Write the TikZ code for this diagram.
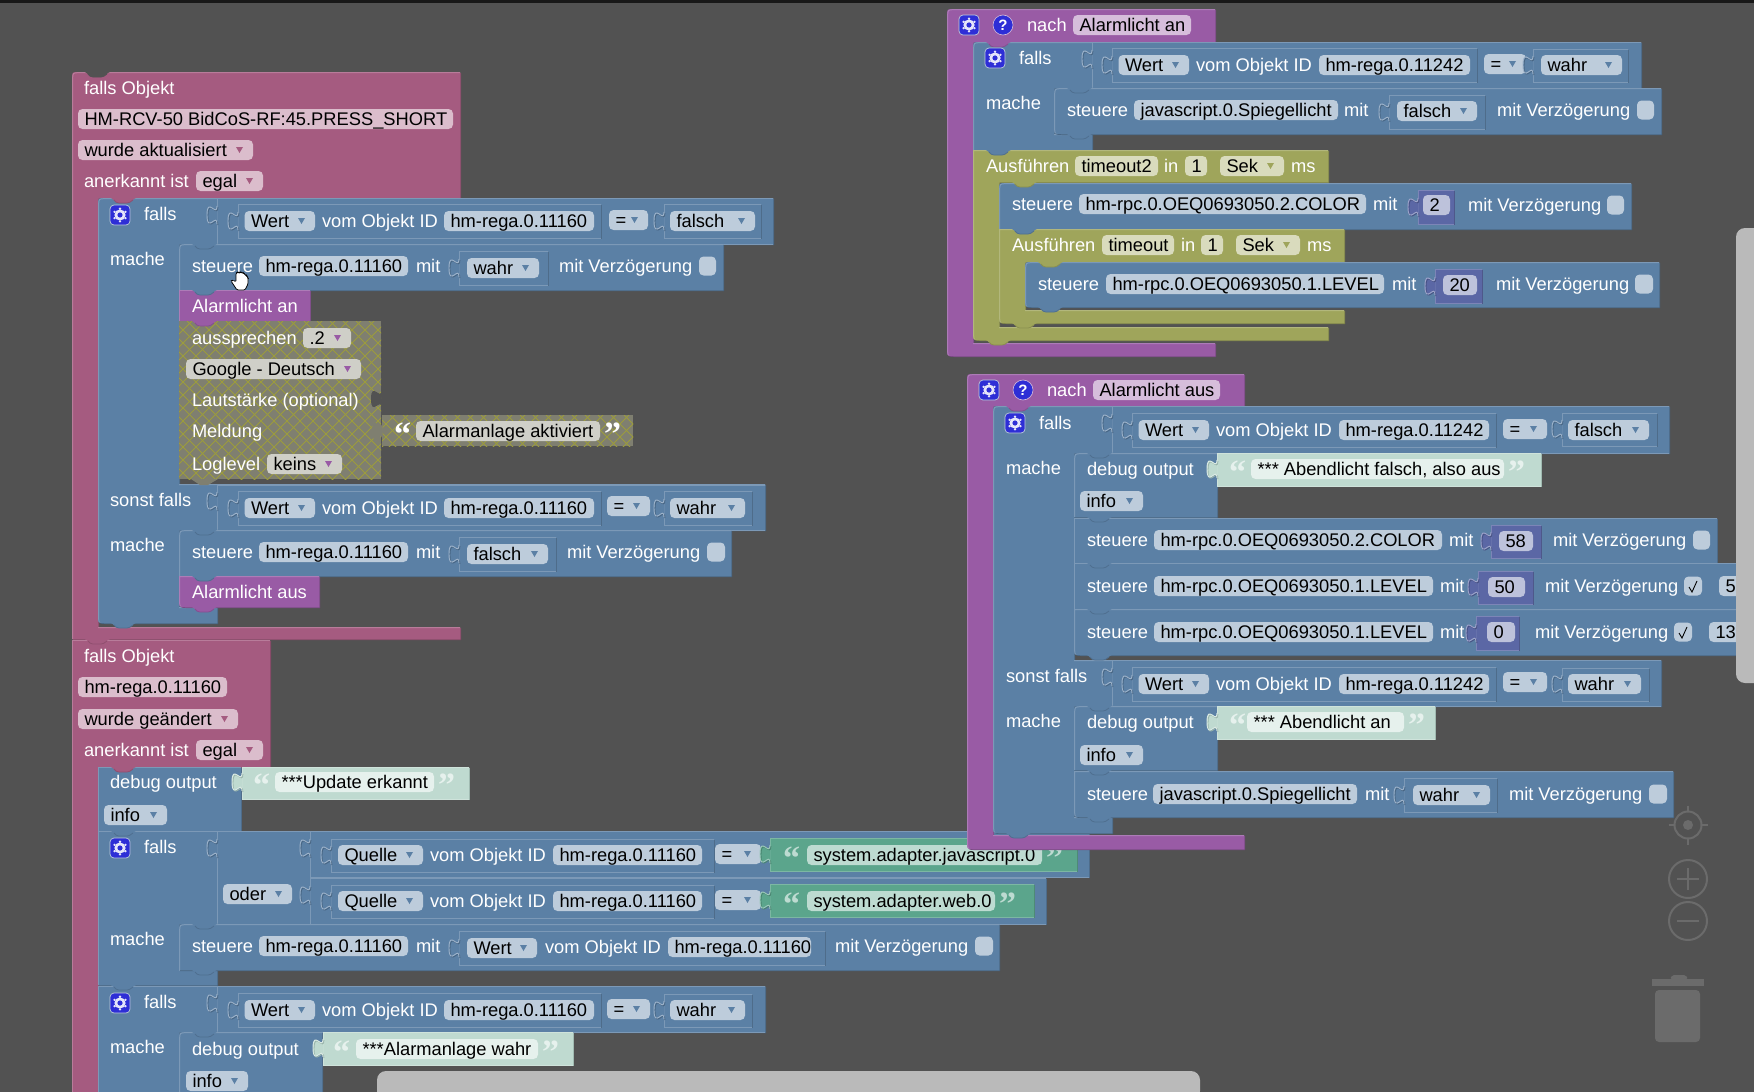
\documentclass[tikz,border=0pt]{standalone}
\usepackage{fontspec}
\setmainfont{Liberation Sans}
\newfontfamily\qfont{Liberation Serif}
\usetikzlibrary{calc}
\definecolor{bgc}{HTML}{525252}\definecolor{bgcD}{HTML}{525252}
\definecolor{bl}{HTML}{5B80A5}\definecolor{blL}{HTML}{7C99B7}\definecolor{blD}{HTML}{486684}\definecolor{blP}{HTML}{BDCCDB}
\definecolor{pk}{HTML}{A55B80}\definecolor{pkL}{HTML}{B87C9A}\definecolor{pkD}{HTML}{844966}\definecolor{pkP}{HTML}{DBBDCC}
\definecolor{pu}{HTML}{995BA5}\definecolor{puL}{HTML}{AD7CB7}\definecolor{puD}{HTML}{7A4984}\definecolor{puP}{HTML}{D6BDDB}
\definecolor{ol}{HTML}{9FA55B}\definecolor{olL}{HTML}{B2B77C}\definecolor{olD}{HTML}{7F8449}\definecolor{olP}{HTML}{D9DBBD}
\definecolor{ma}{HTML}{5B67A5}\definecolor{maL}{HTML}{7C85B7}\definecolor{maD}{HTML}{485284}\definecolor{maP}{HTML}{BDC2DB}
\definecolor{gr}{HTML}{5BA58C}\definecolor{grL}{HTML}{7CB7A3}\definecolor{grD}{HTML}{488470}\definecolor{grP}{HTML}{BDDBD1}
\definecolor{lg}{HTML}{BFDAD0}\definecolor{lgL}{HTML}{CFE3DB}\definecolor{lgD}{HTML}{9AB5AB}\definecolor{lgP}{HTML}{E6F1ED}
\definecolor{ha}{HTML}{995BA5}\definecolor{haP}{HTML}{CFCFC8}\definecolor{habase}{HTML}{7F7F70}\definecolor{haline}{HTML}{9C9C3C}
\definecolor{ctl}{HTML}{6B6B6B}\definecolor{iconc}{HTML}{2E2ED6}
\tikzset{
  txt/.style={font=\fontsize{18.3pt}{20pt}\selectfont,anchor=base west,yshift=-6.5pt,inner sep=0pt,outer sep=0pt},
  wtxt/.style={txt,text=white},
  ktxt/.style={txt,text=black},
  qtxt/.style={font=\qfont\bfseries\fontsize{34pt}{34pt}\selectfont,anchor=base west,yshift=-14pt,inner sep=0pt,outer sep=0pt},
  htch/.style={draw=haline,line width=.9pt},
  ctlline/.style={draw=ctl,line width=2pt},
}
\newcommand{\Blk}[2]{%
  \fill[#1D,shift={(1,1)}] #2;
  \fill[#1] #2;
  \begin{scope}\clip #2;\draw[#1L,line width=1pt,shift={(0.7,0.7)}] #2;\end{scope}}
\newcommand{\Rect}[5]{\Blk{#1}{(#2,#3) rectangle (#4,#5)}}
\newcommand{\Stab}[3]{\begin{scope}[shift={(#2,#3)}]
  \fill[#1] (12,-.5) .. controls (16,1) and (17,5) .. (21,5) -- (29,5) .. controls (33,5) and (34,1) .. (39,-.5) -- cycle;
  \draw[#1D!65!#1,line width=.8pt] (16,2) .. controls (17.5,4) and (19,5) .. (21,5) -- (29,5) .. controls (31,5) and (32.5,4) .. (35,2);
  \end{scope}}
\newcommand{\Vtab}[3]{\begin{scope}[shift={(#2,#3)}]
  \fill[#1] (.6,-1) .. controls (.6,11) and (-10,-11) .. (-10,8) .. controls (-10,27) and (.6,5) .. (.6,17) -- cycle;
  \draw[#1D,line width=.9pt] (.9,0) .. controls (.9,12) and (-9,-10) .. (-9,9) .. controls (-9,28) and (.9,6) .. (.9,18);
  \draw[#1L!75!white,line width=.9pt] (0,-1) .. controls (0,11) and (-10,-11) .. (-10,8) .. controls (-10,27) and (0,5) .. (0,17);
  \end{scope}}
\newcommand{\Lab}[3]{\node[wtxt] at (#1,#2) {#3};}
\newcommand{\Pill}[5]{\fill[#1P,rounded corners=4.5pt] (#2,#4-10) rectangle (#3,#4+10);
  \node[ktxt] at (#2+6.5,#4) {#5};}
\newcommand{\Drop}[5]{\Pill{#1}{#2}{#3}{#4}{#5}
  \fill[#1] (#3-17,#4-3) -- (#3-10,#4-3) -- (#3-13.5,#4+3) -- cycle;}
\newcommand{\Qo}[3]{\node[qtxt,text=#3] at (#1,#2) {“};}
\newcommand{\Qc}[3]{\node[qtxt,text=#3] at (#1,#2) {”};}
\newcommand{\Gear}[2]{\begin{scope}[shift={(#1,#2)}]
  \fill[iconc,rounded corners=4pt,draw=blP,line width=.7pt] (-10,-10) rectangle (10,10);
  \fill[white!88!iconc] (0,0) circle (5.6);
  \foreach \a in {30,90,...,330}{\fill[white!88!iconc] (\a:6.3) circle (1.3);}
  \fill[iconc] (0,0) circle (2.6);
  \end{scope}}
\newcommand{\Help}[2]{\fill[iconc,draw=puP,line width=.6pt] (#1,#2) circle (10);
  \node[font=\bfseries\fontsize{15pt}{15pt}\selectfont,text=white,inner sep=0pt] at (#1,#2) {?};}
\newcommand{\Chk}[3]{\fill[blP,rounded corners=4.5pt] (#1,#3-9.5) rectangle (#2,#3+9.5);}
\newcommand{\Tick}[2]{\draw[black,line width=.9pt] (#1+5,#2+1) -- (#1+8,#2+6) -- (#1+13,#2-5);}
\newcommand{\Hatch}[4]{\begin{scope}\clip (#1,#2) rectangle (#3,#4);
  \fill[habase] (#1,#2) rectangle (#3,#4);
  \foreach \i in {0,13,...,660}{\draw[htch] (#1-200+\i,#2) -- ++(200,200);\draw[htch] (#1-200+\i,#2+200) -- ++(200,-200);}
  \end{scope}}
\newcommand{\WertRow}[5]{% #1 x of vblock, #2 yc, #3 id, #4 right of vblock, #5 pill x1
  \Rect{bl}{#1}{#2-17}{#4}{#2+17}\Vtab{bl}{#1}{#2-8}
  \Drop{bl}{#1+6.5}{#1+77}{#2}{Wert}
  \Lab{#1+84}{#2}{vom Objekt ID}
  \Pill{bl}{#5}{#4-7}{#2}{#3}}
\begin{document}
\begin{tikzpicture}[x=1pt,y=-1pt]
\useasboundingbox (0,0) rectangle (1754,1092);
\clip (0,0) rectangle (1754,1092);
\fill[bgc] (0,0) rectangle (1754,1092);
\fill[black!70!bgc] (0,0) rectangle (1754,3);

%% ---------- first falls Objekt
\Blk{pk}{(72,79) .. controls (72,72) .. (79,72) -- (460,72) -- (460,198) -- (98,198) -- (98,627) -- (460,627) -- (460,639) -- (72,639) -- cycle}
\Stab{bgc}{72}{72}
\Stab{pk}{72}{639}
\Lab{84}{88}{falls Objekt}
\Pill{pk}{78}{453}{119}{HM-RCV-50 BidCoS-RF:45.PRESS\_SHORT}
\Drop{pk}{78}{253}{150}{wurde aktualisiert}
\Lab{84}{181}{anerkannt ist}
\Drop{pk}{196}{263}{181}{egal}
\Blk{bl}{(98,205) .. controls (98,198) .. (105,198) -- (773,198) -- (773,244) -- (179,244) -- (179,484) -- (765,484) -- (765,530) -- (179,530) -- (179,607) -- (217,607) -- (217,623) -- (105,623) .. controls (98,623) .. (98,616) -- cycle}
\Stab{pk}{98}{198}
\Stab{bl}{98}{623}
\Gear{120}{215}
\Lab{144}{214}{falls}
\Lab{110}{259}{mache}
\Rect{bl}{217}{198}{773}{244}
\Vtab{bl}{217}{207}
\WertRow{238}{221}{hm-rega.0.11160}{601}{444}
\Drop{bl}{609}{648}{220}{=}
\Rect{bl}{664}{204}{761}{238}\Vtab{bl}{664}{213}
\Drop{bl}{670}{755}{221}{falsch}
\Blk{bl}{(179,251) .. controls (179,244) .. (186,244) -- (723,244) -- (723,290) -- (179,290) -- cycle}
\Stab{bl}{179}{244}
\Lab{192}{266}{steuere}
\Pill{bl}{259}{408}{266}{hm-rega.0.11160}
\Lab{416}{266}{mit}
\Rect{bl}{459}{251}{548}{285}\Vtab{bl}{459}{260}
\Drop{bl}{467}{539}{268}{wahr}
\Lab{559}{266}{mit Verzögerung}
\Chk{699}{716}{266}
\Rect{pu}{179}{290}{310}{321}
\Stab{bl}{179}{290}
\Lab{192}{306}{Alarmlicht an}
\Hatch{179}{321}{381}{479}
\fill[bgc] (381.5,390) .. controls (381.5,402) and (371,380) .. (371,399) .. controls (371,418) and (381.5,396) .. (381.5,408) -- cycle;
\Stab{pu}{179}{321}
\fill[habase] (191,479) -- (200,485) -- (208,485) -- (218,479) -- cycle;
\Lab{192}{338}{aussprechen}
\Drop{ha}{303}{351}{338}{.2}
\Drop{ha}{186}{361}{369}{Google - Deutsch}
\Lab{192}{400}{Lautstärke (optional)}
\Lab{192}{431}{Meldung}
\Lab{192}{464}{Loglevel}
\Drop{ha}{267}{342}{464}{keins}
\Hatch{382}{415}{633}{446}
\fill[habase] (382.5,422) .. controls (382.5,434) and (372,412) .. (372,431) .. controls (372,450) and (382.5,428) .. (382.5,440) -- cycle;
\Qo{394}{431}{white}
\fill[haP,rounded corners=4.5pt] (416,421) rectangle (600,441);
\node[ktxt] at (422.5,431) {Alarmanlage aktiviert};
\Qc{604}{431}{white}
%% sonst falls
\Lab{110}{500}{sonst falls}
\Rect{bl}{217}{485}{765}{530}
\Vtab{bl}{217}{493}
\WertRow{238}{508}{hm-rega.0.11160}{601}{444}
\Drop{bl}{607}{650}{506}{=}
\Rect{bl}{664}{491}{752}{525}\Vtab{bl}{664}{500}
\Drop{bl}{670}{745}{508}{wahr}
\Lab{110}{545}{mache}
\Blk{bl}{(179,537) .. controls (179,530) .. (186,530) -- (731,530) -- (731,576) -- (179,576) -- cycle}
\Stab{bl}{179}{530}
\Lab{192}{552}{steuere}
\Pill{bl}{259}{408}{552}{hm-rega.0.11160}
\Lab{416}{552}{mit}
\Rect{bl}{459}{537}{556}{571}\Vtab{bl}{459}{546}
\Drop{bl}{467}{548}{554}{falsch}
\Lab{567}{552}{mit Verzögerung}
\Chk{707}{725}{552}
\Blk{pu}{(179,576) -- (319,576) -- (319,607) -- (186,607) .. controls (179,607) .. (179,600) -- cycle}
\Stab{bl}{179}{576}
\Stab{pu}{179}{607}
\Lab{192}{592}{Alarmlicht aus}

%% ---------- second falls Objekt
\Blk{pk}{(72,640) -- (270,640) -- (270,767) -- (98,767) -- (98,1110) -- (72,1110) -- cycle}
\Stab{pk}{72}{639}
\Lab{84}{656}{falls Objekt}
\Pill{pk}{78}{227}{687}{hm-rega.0.11160}
\Drop{pk}{78}{238}{719}{wurde geändert}
\Lab{84}{750}{anerkannt ist}
\Drop{pk}{196}{263}{750}{egal}
\Blk{bl}{(98,767) -- (241,767) -- (241,831) -- (98,831) -- cycle}
\Stab{pk}{98}{767}
\Lab{110}{782}{debug output}
\Drop{bl}{104}{167}{815}{info}
\Rect{lg}{242}{767}{469}{799}
\Vtab{lg}{242}{774}
\Qo{253}{782}{lgP}
\Pill{lg}{275}{434}{782}{***Update erkannt}
\Qc{438}{782}{lgP}
%% falls 2
\Blk{bl}{(98,831) -- (310,831) -- (310,924) -- (179,924) -- (179,970) -- (217,970) -- (217,985) -- (98,985) -- cycle}
\Stab{bl}{98}{831}
\Stab{bl}{98}{985}
\Gear{120}{848}
\Lab{144}{847}{falls}
\Lab{110}{939}{mache}
\Rect{bl}{217}{831}{310}{924}
\Vtab{bl}{217}{840}
\Drop{bl}{223}{292}{894}{oder}
\Rect{bl}{310}{831}{1089}{877}
\Vtab{bl}{310}{840}
\Rect{bl}{331}{839}{714}{872}\Vtab{bl}{331}{847}
\Drop{bl}{338}{423}{855}{Quelle}
\Lab{430}{855}{vom Objekt ID}
\Pill{bl}{553}{702}{855}{hm-rega.0.11160}
\Drop{bl}{715}{761}{854}{=}
\Rect{gr}{770}{838}{1077}{871}\Vtab{gr}{770}{846}
\Qo{783}{855}{grP}
\Pill{gr}{807}{1042}{855}{system.adapter.javascript.0}
\Qc{1046}{855}{grP}
\Rect{bl}{310}{878}{1046}{924}
\Vtab{bl}{310}{887}
\Rect{bl}{331}{885}{714}{918}\Vtab{bl}{331}{893}
\Drop{bl}{338}{423}{901}{Quelle}
\Lab{430}{901}{vom Objekt ID}
\Pill{bl}{553}{702}{901}{hm-rega.0.11160}
\Drop{bl}{715}{761}{900}{=}
\Rect{gr}{770}{884}{1034}{917}\Vtab{gr}{770}{892}
\Qo{783}{901}{grP}
\Pill{gr}{807}{995}{901}{system.adapter.web.0}
\Qc{999}{901}{grP}
\Blk{bl}{(179,931) .. controls (179,924) .. (186,924) -- (999,924) -- (999,970) -- (179,970) -- cycle}
\Stab{bl}{179}{924}
\Stab{bl}{179}{970}
\Lab{192}{946}{steuere}
\Pill{bl}{259}{408}{946}{hm-rega.0.11160}
\Lab{416}{946}{mit}
\Rect{bl}{459}{931}{825}{965}\Vtab{bl}{459}{940}
\Drop{bl}{467}{537}{948}{Wert}
\Lab{545}{947}{vom Objekt ID}
\Pill{bl}{668}{811}{947}{hm-rega.0.11160}
\Lab{835}{946}{mit Verzögerung}
\Chk{975}{993}{946}
%% falls 3
\Blk{bl}{(98,986) -- (765,986) -- (765,1032) -- (179,1032) -- (179,1110) -- (98,1110) -- cycle}
\Stab{bl}{98}{985}
\Gear{120}{1003}
\Lab{144}{1002}{falls}
\Lab{110}{1047}{mache}
\Rect{bl}{217}{986}{765}{1032}
\Vtab{bl}{217}{995}
\WertRow{238}{1010}{hm-rega.0.11160}{601}{444}
\Drop{bl}{607}{650}{1009}{=}
\Rect{bl}{664}{994}{752}{1027}\Vtab{bl}{664}{1002}
\Drop{bl}{670}{745}{1010}{wahr}
\Blk{bl}{(179,1039) .. controls (179,1032) .. (186,1032) -- (322,1032) -- (322,1110) -- (179,1110) -- cycle}
\Stab{bl}{179}{1032}
\Lab{192}{1049}{debug output}
\Drop{bl}{186}{248}{1081}{info}
\Rect{lg}{323}{1032}{573}{1065}
\Vtab{lg}{323}{1040}
\Qo{333}{1049}{lgP}
\Pill{lg}{356}{538}{1049}{***Alarmanlage wahr}
\Qc{542}{1049}{lgP}

%% ---------- nach Alarmlicht an
\Blk{pu}{(947,16) .. controls (947,9) .. (954,9) -- (1215,9) -- (1215,42) -- (973,42) -- (973,343) -- (1215,343) -- (1215,356) -- (954,356) .. controls (947,356) .. (947,349) -- cycle}
\Gear{969}{25}
\Help{1003}{25}
\Lab{1027}{25}{nach}
\Pill{pu}{1073}{1191}{25}{Alarmlicht an}
\Blk{bl}{(973,49) .. controls (973,42) .. (980,42) -- (1641,42) -- (1641,88) -- (1054,88) -- (1054,134) -- (1092,134) -- (1092,150) -- (973,150) -- cycle}
\Stab{pu}{973}{42}
\Gear{995}{58}
\Lab{1019}{58}{falls}
\Lab{986}{103}{mache}
\Rect{bl}{1092}{42}{1641}{88}
\Vtab{bl}{1092}{51}
\WertRow{1112}{65}{hm-rega.0.11242}{1477}{1319}
\Drop{bl}{1484}{1526}{64}{=}
\Rect{bl}{1533}{49}{1628}{82}\Vtab{bl}{1533}{57}
\Drop{bl}{1541}{1622}{65}{wahr}
\Blk{bl}{(1054,95) .. controls (1054,88) .. (1061,88) -- (1661,88) -- (1661,134) -- (1061,134) .. controls (1054,134) .. (1054,127) -- cycle}
\Stab{bl}{1054}{88}
\Stab{bl}{1054}{134}
\Lab{1067}{110}{steuere}
\Pill{bl}{1134}{1338}{110}{javascript.0.Spiegellicht}
\Lab{1344}{110}{mit}
\Rect{bl}{1389}{95}{1485}{129}\Vtab{bl}{1389}{104}
\Drop{bl}{1397}{1477}{111}{falsch}
\Lab{1497}{110}{mit Verzögerung}
\Chk{1637}{1654}{110}
%% Ausfuehren outer
\Blk{ol}{(973,150) -- (1328,150) -- (1328,182) -- (999,182) -- (999,327) -- (1328,327) -- (1328,340) -- (980,340) .. controls (973,340) .. (973,333) -- cycle}
\Stab{bl}{973}{150}
\Stab{ol}{973}{340}
\Lab{986}{166}{Ausführen}
\Pill{ol}{1075}{1158}{166}{timeout2}
\Lab{1164}{166}{in}
\Pill{ol}{1185}{1207}{166}{1}
\Drop{ol}{1220}{1284}{166}{Sek}
\Lab{1291}{166}{ms}
\Blk{bl}{(999,190) .. controls (999,183) .. (1006,183) -- (1631,183) -- (1631,229) -- (999,229) -- cycle}
\Stab{ol}{999}{182}
\Lab{1012}{204}{steuere}
\Pill{bl}{1079}{1366}{204}{hm-rpc.0.OEQ0693050.2.COLOR}
\Lab{1373}{204}{mit}
\Rect{ma}{1418}{190}{1454}{224}\Vtab{ma}{1418}{199}
\Pill{ma}{1423}{1450}{205}{2}
\Lab{1468}{205}{mit Verzögerung}
\Chk{1607}{1624}{205}
\Blk{ol}{(999,229) -- (1344,229) -- (1344,262) -- (1025,262) -- (1025,310) -- (1344,310) -- (1344,323) -- (1006,323) .. controls (999,323) .. (999,316) -- cycle}
\Stab{bl}{999}{229}
\Stab{ol}{999}{323}
\Lab{1012}{245}{Ausführen}
\Pill{ol}{1102}{1174}{245}{timeout}
\Lab{1181}{245}{in}
\Pill{ol}{1201}{1223}{245}{1}
\Drop{ol}{1236}{1300}{245}{Sek}
\Lab{1307}{245}{ms}
\Blk{bl}{(1025,269) .. controls (1025,262) .. (1032,262) -- (1659,262) -- (1659,307) -- (1032,307) .. controls (1025,307) .. (1025,300) -- cycle}
\Stab{ol}{1025}{262}
\Stab{bl}{1025}{307}
\Lab{1038}{284}{steuere}
\Pill{bl}{1106}{1384}{284}{hm-rpc.0.OEQ0693050.1.LEVEL}
\Lab{1392}{284}{mit}
\Rect{ma}{1435}{269}{1482}{303}\Vtab{ma}{1435}{278}
\Pill{ma}{1443}{1477}{285}{20}
\Lab{1496}{284}{mit Verzögerung}
\Chk{1635}{1653}{284}

%% ---------- nach Alarmlicht aus
\Blk{pu}{(967,381) .. controls (967,374) .. (974,374) -- (1244,374) -- (1244,406) -- (993,406) -- (993,835) -- (1244,835) -- (1244,849) -- (974,849) .. controls (967,849) .. (967,842) -- cycle}
\Gear{989}{390}
\Help{1023}{390}
\Lab{1047}{390}{nach}
\Pill{pu}{1093}{1220}{390}{Alarmlicht aus}
\Blk{bl}{(993,413) .. controls (993,406) .. (1000,406) -- (1669,406) -- (1669,453) -- (1074,453) -- (1074,660) -- (1661,660) -- (1661,706) -- (1074,706) -- (1074,817) -- (1112,817) -- (1112,833) -- (1000,833) .. controls (993,833) .. (993,826) -- cycle}
\Stab{pu}{993}{406}
\Stab{bl}{993}{833}
\Gear{1015}{423}
\Lab{1039}{423}{falls}
\Lab{1006}{468}{mache}
\Rect{bl}{1112}{406}{1669}{453}
\Vtab{bl}{1112}{415}
\WertRow{1132}{430}{hm-rega.0.11242}{1496}{1339}
\Drop{bl}{1503}{1547}{429}{=}
\Rect{bl}{1562}{413}{1657}{446}\Vtab{bl}{1562}{421}
\Drop{bl}{1568}{1649}{430}{falsch}
\Blk{bl}{(1074,460) .. controls (1074,453) .. (1081,453) -- (1217,453) -- (1217,517) -- (1074,517) -- cycle}
\Stab{bl}{1074}{453}
\Lab{1087}{469}{debug output}
\Drop{bl}{1080}{1143}{501}{info}
\Rect{lg}{1217}{453}{1541}{486}
\Vtab{lg}{1217}{461}
\Qo{1229}{469}{lgP}
\Pill{lg}{1251}{1504}{469}{*** Abendlicht falsch, also aus}
\Qc{1508}{469}{lgP}
\Rect{bl}{1074}{518}{1717}{563}
\Stab{bl}{1074}{517}
\Lab{1087}{540}{steuere}
\Pill{bl}{1154}{1442}{540}{hm-rpc.0.OEQ0693050.2.COLOR}
\Lab{1449}{540}{mit}
\Rect{ma}{1491}{525}{1541}{558}\Vtab{ma}{1491}{533}
\Pill{ma}{1499}{1533}{541}{58}
\Lab{1553}{540}{mit Verzögerung}
\Chk{1693}{1710}{540}
\Rect{bl}{1074}{563}{1760}{609}
\Stab{bl}{1074}{563}
\Lab{1087}{586}{steuere}
\Pill{bl}{1154}{1433}{586}{hm-rpc.0.OEQ0693050.1.LEVEL}
\Lab{1440}{586}{mit}
\Rect{ma}{1478}{571}{1533}{604}\Vtab{ma}{1478}{579}
\Pill{ma}{1488}{1525}{587}{50}
\Lab{1545}{586}{mit Verzögerung}
\Chk{1684}{1702}{586}\Tick{1684}{586}
\Pill{bl}{1719}{1750}{586}{5}
\Blk{bl}{(1074,609) -- (1760,609) -- (1760,655) -- (1081,655) .. controls (1074,655) .. (1074,648) -- cycle}
\Stab{bl}{1074}{609}
\Stab{bl}{1074}{655}
\Lab{1087}{632}{steuere}
\Pill{bl}{1154}{1433}{632}{hm-rpc.0.OEQ0693050.1.LEVEL}
\Lab{1440}{632}{mit}
\Rect{ma}{1476}{616}{1519}{650}\Vtab{ma}{1476}{625}
\Pill{ma}{1487}{1515}{632}{0}
\Lab{1535}{632}{mit Verzögerung}
\Chk{1674}{1692}{632}\Tick{1674}{632}
\Pill{bl}{1709}{1750}{632}{13}
%% sonst falls
\Lab{1006}{676}{sonst falls}
\Rect{bl}{1112}{660}{1661}{706}
\Vtab{bl}{1112}{669}
\WertRow{1132}{684}{hm-rega.0.11242}{1496}{1339}
\Drop{bl}{1503}{1547}{682}{=}
\Rect{bl}{1562}{668}{1649}{701}\Vtab{bl}{1562}{676}
\Drop{bl}{1568}{1641}{684}{wahr}
\Lab{1006}{721}{mache}
\Blk{bl}{(1074,713) .. controls (1074,706) .. (1081,706) -- (1217,706) -- (1217,770) -- (1074,770) -- cycle}
\Stab{bl}{1074}{706}
\Lab{1087}{722}{debug output}
\Drop{bl}{1080}{1143}{755}{info}
\Rect{lg}{1217}{706}{1435}{739}
\Vtab{lg}{1217}{714}
\Qo{1229}{722}{lgP}
\Pill{lg}{1247}{1404}{722}{*** Abendlicht an}
\Qc{1408}{722}{lgP}
\Blk{bl}{(1074,771) -- (1673,771) -- (1673,817) -- (1081,817) .. controls (1074,817) .. (1074,810) -- cycle}
\Stab{bl}{1074}{770}
\Stab{bl}{1074}{817}
\Lab{1087}{794}{steuere}
\Pill{bl}{1153}{1357}{794}{javascript.0.Spiegellicht}
\Lab{1365}{794}{mit}
\Rect{bl}{1404}{778}{1497}{812}\Vtab{bl}{1404}{787}
\Drop{bl}{1413}{1490}{795}{wahr}
\Lab{1509}{794}{mit Verzögerung}
\Chk{1649}{1667}{794}

%% ---------- hand cursor
\draw[fill=white,draw=black,line width=.7pt,rounded corners=1.2pt] (231,281) -- (233,280) -- (236,282) -- (236,273) -- (238,272) -- (239,273) -- (241,272) -- (242,273) -- (244,273) -- (245,275) -- (247,276) -- (248,278) -- (248,284) -- (245,290) -- (237,290) -- cycle;

%% ---------- workspace controls
\draw[ctlline] (1688,825) circle (13.5);
\fill[ctl] (1688,825) circle (5);
\draw[ctlline] (1668.5,825) -- (1674,825) (1702,825) -- (1707.5,825) (1688,805.5) -- (1688,811) (1688,839) -- (1688,844.5);
\draw[ctlline] (1688,879) circle (19);
\draw[ctlline] (1677,879) -- (1699,879) (1688,868) -- (1688,890);
\draw[ctlline] (1688,921) circle (19);
\draw[ctlline] (1677,921) -- (1699,921);
\fill[ctl,rounded corners=2pt] (1670,979) -- (1672,975) -- (1686,975) -- (1688,979) -- cycle;
\fill[ctl] (1652,979) rectangle (1704,986);
\fill[ctl,rounded corners=4pt] (1655,990) -- (1700,990) -- (1700,1042) -- (1655,1042) -- cycle;

%% ---------- scrollbars
\fill[black!20!white!85!bgc,rounded corners=9pt] (377,1071) rectangle (1200,1100);
\fill[black!20!white!85!bgc,rounded corners=9pt] (1736,228) rectangle (1770,683);
\end{tikzpicture}
\end{document}
